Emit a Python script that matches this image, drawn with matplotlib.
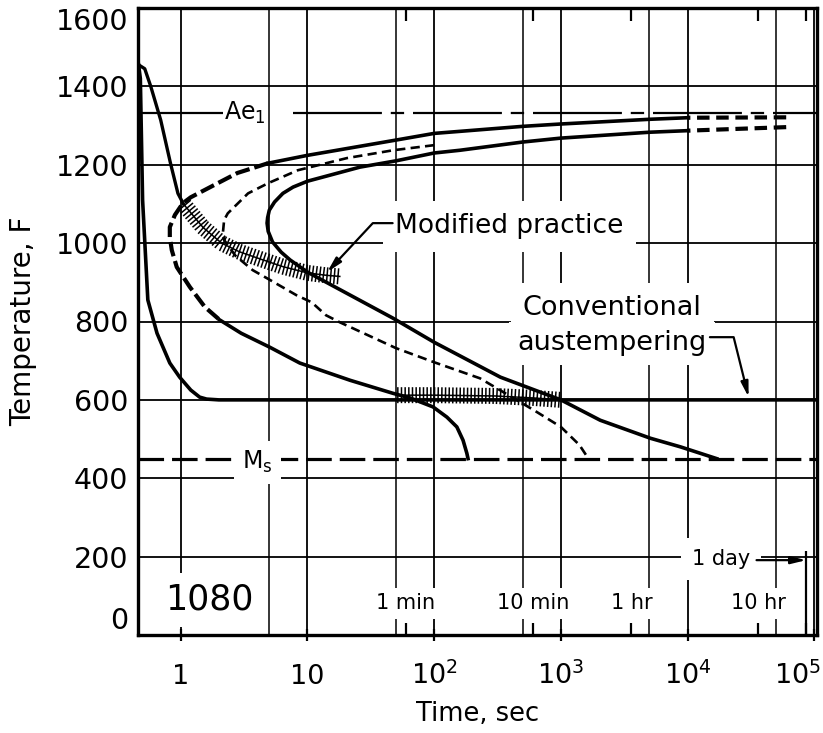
#! /usr/bin/env python3

'''
TTT diagram of 1080 steel with conventional and modified austempering paths.
'''

import matplotlib
matplotlib.use('Agg')
import matplotlib.pyplot as plt
from matplotlib.patheffects import TickedStroke, Normal
from matplotlib.transforms import ScaledTranslation


# isothermal reference lines, deg F
AE1 = 1333
MS = 450
DAY = 86400

# transformation start curve, split where the drawn style changes
start_tail_t = [6e4, 1e4]
start_tail_T = [1321, 1320]
start_upper_t = [1e4, 5000, 1000, 500, 100, 50, 10, 4.9]
start_upper_T = [1320, 1316, 1304, 1298, 1280, 1263, 1224, 1204]
start_nose_t = [4.9, 2.8, 1.96, 1.2, 1.04, 0.9, 0.82, 0.82, 0.85, 0.93,
                1.18, 1.55, 2.03]
start_nose_T = [1204, 1179, 1153, 1117, 1102, 1072, 1041, 1015, 982, 939,
                888, 837, 804]
start_lower_t = [2.03, 3.0, 5.0, 8.7, 21.7, 47, 64.5, 98, 126, 151, 169,
                 181, 185]
start_lower_T = [804, 770, 735, 694, 650, 617, 605, 582, 556, 531, 497,
                 464, 450]

# 50 % transformation curve
half_t = [100, 47.5, 20.5, 8.4, 4.9, 3.4, 2.35, 2.2, 2.15, 2.2, 2.7, 3.7,
          4.7, 8.2, 10.8, 14, 18, 21.7, 50, 100, 230, 610, 1000, 1400, 1650]
half_T = [1250, 1237, 1217, 1186, 1153, 1127, 1076, 1059, 1025, 1008, 968,
          931, 912, 867, 849, 816, 798, 786, 732, 696, 655, 574, 531, 485,
          450]

# transformation finish curve
finish_tail_t = [6e4, 1e4]
finish_tail_T = [1296, 1287]
finish_t = [1e4, 5000, 1000, 500, 160, 100, 50, 26, 10, 7.7, 6.4, 5.5, 5.0,
            4.85, 4.8, 4.9, 5.3, 6.2, 7.3, 10, 47, 100, 333, 1000, 2045,
            5096, 8800, 17000]
finish_T = [1287, 1283, 1268, 1258, 1237, 1230, 1210, 1194, 1158, 1143,
            1127, 1105, 1084, 1065, 1051, 1030, 1003, 977, 957, 926, 809,
            747, 658, 600, 548, 502, 480, 450]

# cooling paths
conv_t = [0.465, 0.48, 0.50, 0.55, 0.65, 0.82, 0.98, 1.2, 1.41, 1.6, 2.0,
          1e5]
conv_T = [1455, 1420, 1110, 855, 770, 694, 658, 625, 607, 602, 600, 600]
mod_cool_t = [0.465, 0.52, 0.58, 0.695, 0.83, 0.95, 1.05]
mod_cool_T = [1455, 1445, 1400, 1314, 1204, 1127, 1100]
mod_trans_t = [1.05, 1.5, 2.1, 2.9, 4.2, 6.4, 10, 14, 18]
mod_trans_T = [1100, 1040, 1000, 978, 960, 940, 924, 918, 915]
hold_trans_t = [50, 100, 300, 600, 1000]
hold_trans_T = [612, 612, 610, 605, 600]

time_marks = [60, 600, 3600, 36000, DAY]
time_names = ['1 min', '10 min', '1 hr', '10 hr']
decades = [1, 10, 100, 1000, 1e4, 1e5]
decade_labels = ['1', '10', '$10^2$', '$10^3$', '$10^4$', '$10^5$']
half_decades = [5, 50, 500, 5000, 50000]
temps = list(range(0, 1601, 200))


def hatch(ax, t, T):
    ticks = [TickedStroke(angle=90, spacing=2.6, length=2.0),
             TickedStroke(angle=-90, spacing=2.6, length=2.0), Normal()]
    ax.plot(t, T, color='black', lw=1.1, zorder=5, path_effects=ticks)


def white(pad):
    return dict(facecolor='white', edgecolor='none', pad=pad)


def arrow(ax, xy, xytext, angle_b=None):
    props = dict(arrowstyle='-|>,head_length=0.9,head_width=0.22',
                 color='black', lw=1.6, shrinkA=0, shrinkB=0)
    if angle_b is not None:
        props['connectionstyle'] = f'angle,angleA=0,angleB={angle_b},rad=0'
    ax.annotate('', xy=xy, xytext=xytext, zorder=5, arrowprops=props)


def main():
    fig = plt.figure(figsize=(8.23, 7.33), dpi=100)
    ax = fig.add_axes([138/823, 98/733, 679/823, 627/733])
    ax.set_xscale('log')
    ax.set_xlim(0.46, 1.05e5)
    ax.set_ylim(0, 1600)

    # grid
    ax.set_yticks(temps)
    ax.set_xticks(decades)
    ax.grid(True, which='major', color='black', lw=1.3, zorder=1)
    for t in half_decades:
        ax.axvline(t, color='black', lw=1.1, zorder=1)
    for s in ax.spines.values():
        s.set_linewidth(2.4)
        s.set_zorder(6)

    # reference isotherms
    ax.hlines(AE1, 0.46, 2.15, color='black', lw=1.6, zorder=2)
    ax.hlines(AE1, 7.7, 1.05e5, color='black', lw=1.6, zorder=2,
              linestyles=[(0, (40, 4, 6, 4))])
    ax.axhline(MS, color='black', lw=2.3, ls=(0, (8, 2.5)), zorder=2)
    ax.vlines(DAY, 0, 215, color='black', lw=1.6, zorder=2)

    # transformation curves
    long_dash = (0, (3.5, 1.2))
    ax.plot(start_tail_t, start_tail_T, color='black', lw=3.0,
            ls=(0, (3, 1.6)), zorder=4)
    ax.plot(start_upper_t, start_upper_T, color='black', lw=2.6, zorder=4)
    ax.plot(start_nose_t, start_nose_T, color='black', lw=3.0, ls=long_dash,
            zorder=4)
    ax.plot(start_lower_t, start_lower_T, color='black', lw=2.6, zorder=4)
    ax.plot(half_t, half_T, color='black', lw=1.9, ls=(0, (3.5, 2)),
            zorder=4)
    ax.plot(finish_tail_t, finish_tail_T, color='black', lw=3.0,
            ls=(0, (3, 1.6)), zorder=4)
    ax.plot(finish_t, finish_T, color='black', lw=2.6, zorder=4)

    # cooling paths
    ax.plot(conv_t, conv_T, color='black', lw=2.6, zorder=4)
    ax.plot(mod_cool_t, mod_cool_T, color='black', lw=2.4, zorder=4)
    hatch(ax, mod_trans_t, mod_trans_T)
    hatch(ax, hold_trans_t, hold_trans_T)

    # labels inside the chart
    ax.text(3.2, AE1, 'Ae$_{\\mathregular{1}}$', fontsize=17, ha='center',
            va='center', zorder=3)
    ax.text(4.0, 441, 'M$_{\\mathregular{s}}$', fontsize=17, ha='center',
            va='center', bbox=white(6), zorder=3)
    ax.text(49, 1025, 'Modified practice', fontsize=19, ha='left',
            va='baseline', bbox=white(9), zorder=3)
    arrow(ax, (14.3, 926), (47, 1051), 47)
    ax.text(2550, 816, 'Conventional', fontsize=19.5, ha='center',
            va='baseline', bbox=white(9), zorder=3)
    ax.text(2550, 727, 'austempering', fontsize=19.5, ha='center',
            va='baseline', bbox=white(6), zorder=3)
    arrow(ax, (3.03e4, 607), (1.5e4, 760), -76)
    for t, name in zip(time_marks, time_names):
        ax.text(t, 66, name, fontsize=15, ha='center', va='baseline',
                bbox=white(4), zorder=3)
    ax.text(1.84e4, 179, '1 day', fontsize=15, ha='center', va='baseline',
            bbox=white(8), zorder=3)
    arrow(ax, (DAY, 191), (3.5e4, 191))
    ax.text(1.69, 64, '1080', fontsize=25, ha='center', va='baseline',
            bbox=white(7), zorder=3)

    # ticks
    ax.set_xticks(time_marks, minor=True)
    ax.set_xticklabels(decade_labels, fontsize=19.5, va='baseline')
    ax.set_xticklabels([], minor=True)
    ax.tick_params(axis='x', which='major', direction='inout', length=9,
                   width=1.6, pad=31, top=False)
    ax.tick_params(axis='x', which='minor', direction='in', length=9,
                   width=1.6, top=True, bottom=True)
    ax.tick_params(axis='y', length=0, pad=7, labelsize=20.5)
    ylabels = ax.get_yticklabels()
    ylabels[0].set_va('bottom')
    ylabels[-1].set_va('top')
    last = ax.get_xticklabels()[-1]
    last.set_transform(last.get_transform() +
                       ScaledTranslation(-12/72, 0, fig.dpi_scale_trans))

    ax.set_xlabel('Time, sec', fontsize=18.5)
    ax.xaxis.set_label_coords(0.5, -0.106)
    ax.set_ylabel('Temperature, F', fontsize=20)
    ax.yaxis.set_label_coords(-0.149, 0.5)

    fig.savefig('out.png', dpi=100)


if __name__ == '__main__':
    main()
